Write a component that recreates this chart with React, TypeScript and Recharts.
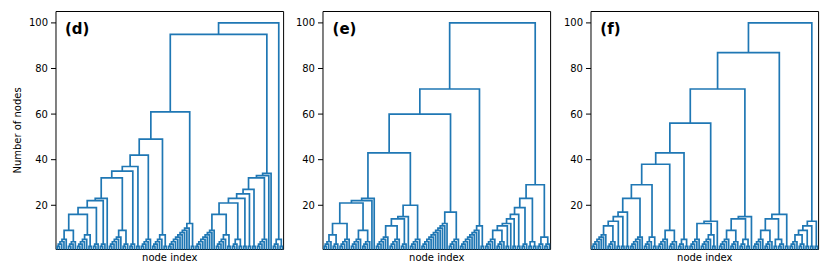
import React, { useMemo } from 'react';
import { LineChart, Line, XAxis, YAxis, ReferenceArea } from 'recharts';

// ---------- data ----------
// Tree topology strings: '.' = single node (leaf), '(' A B ')' = merge of A and B,
// digit k = a chain (caterpillar) of k leaves merged one at a time.
// Merge height = number of nodes in the merged cluster.
const panelLabels = ['(d)', '(e)', '(f)'];
const yTicks = [20, 40, 60, 80, 100];
const leafCount = 100;

const treeD =
  '((' +
  '(((((((((' + '((54)(52))' + '3)3).)(63))3)2)5)(52))((9.)2))' +
  '((((((((9(52))(32))2)2)2)5).).)' +
  ')(32))';

const treeE =
  '(' +
  '(' + '(' + '(' + '(((((43)5)(54)).).)' + '((((65)3).)5)' + ')' + '((((9.).).)5)' + ')' + '(92))' +
  '((((((((54)2).)2)2)3)(22))(33))' +
  ')';

const treeF =
  '(' +
  '(' + '(' + '(' + '(' + '(' + '(' + '(' + '((((74)2)2)2)' + '6)' + '(42))' + '(54))' + '(32))' +
  '((5(52)).))' + '(((54)(32)).))' + '(((54)(23))2))' +
  '((((43)2)2)2))';

const trees = [treeD, treeE, treeF];

// ---------- layout ----------
const PLOT_LEFTS = [55.7, 323.3, 591];
const PLOT_W = 227.6;
const Y_W = 50;
const TOP = 11.5;
const X_H = 27.5;
const Y_MIN = 0.6;
const Y_MAX = 105;
const BLUE = '#1f77b4';

type N = { x: number; n: number; h: number };
type P = { x: number; y: number | null };

function buildSegments(tree: string): P[] {
  const s = tree.replace(/\s+/g, '');
  let pos = 0;
  let leaf = 0;
  const pts: P[] = [];
  const mkLeaf = (): N => {
    const nd = { x: leaf * 10 + 5, n: 1, h: 0 };
    leaf++;
    return nd;
  };
  const join = (a: N, b: N): N => {
    const size = a.n + b.n;
    pts.push(
      { x: a.x, y: a.h },
      { x: a.x, y: size },
      { x: b.x, y: size },
      { x: b.x, y: b.h },
      { x: b.x, y: null }
    );
    return { x: (a.x + b.x) / 2, n: size, h: size };
  };
  const node = (): N => {
    const c = s[pos];
    if (c === '.') {
      pos++;
      return mkLeaf();
    }
    if (c >= '1' && c <= '9') {
      pos++;
      const k = +c;
      let cur = mkLeaf();
      for (let i = 1; i < k; i++) cur = join(cur, mkLeaf());
      return cur;
    }
    if (c === '(') {
      pos++;
      const a = node();
      const b = node();
      if (s[pos] !== ')') throw new Error('bad tree at ' + pos);
      pos++;
      return join(a, b);
    }
    throw new Error('bad char ' + c + ' at ' + pos);
  };
  node();
  if (leaf !== leafCount || pos !== s.length) {
    throw new Error('tree has ' + leaf + ' leaves, parsed ' + pos + '/' + s.length);
  }
  return pts;
}

function Panel({ idx }: { idx: number }) {
  const data = useMemo(() => buildSegments(trees[idx]), [idx]);
  const left = PLOT_LEFTS[idx];
  return (
    <>
      <div style={{ position: 'absolute', left: left - Y_W, top: 0 }}>
        <LineChart
          width={Y_W + PLOT_W + 2}
          height={277}
          margin={{ top: TOP, right: 2, bottom: 0, left: 0 }}
        >
          <XAxis
            type="number"
            dataKey="x"
            domain={[0, 1000]}
            allowDataOverflow
            tick={false}
            tickLine={false}
            axisLine={false}
            height={X_H}
            label={{ value: 'node index', position: 'insideTop', offset: 4, fill: '#000', fontSize: 10 }}
          />
          <YAxis
            type="number"
            domain={[Y_MIN, Y_MAX]}
            allowDataOverflow
            ticks={yTicks}
            width={Y_W}
            tickSize={5}
            tickMargin={3}
            axisLine={false}
            tickLine={{ stroke: '#000' }}
            tick={{ fill: '#000', fontSize: 10 }}
            label={
              idx === 0
                ? {
                    value: 'Number of nodes',
                    angle: -90,
                    position: 'insideLeft',
                    offset: 11,
                    fill: '#000',
                    fontSize: 10,
                    style: { textAnchor: 'middle' },
                  }
                : undefined
            }
          />
          <Line
            data={data}
            dataKey="y"
            stroke={BLUE}
            strokeWidth={1.7}
            dot={false}
            activeDot={false}
            connectNulls={false}
            isAnimationActive={false}
          />
          <ReferenceArea x1={0} x2={1000} y1={Y_MIN} y2={Y_MAX} fill="none" stroke="#000" strokeWidth={1} />
        </LineChart>
      </div>
      <div
        style={{
          position: 'absolute',
          left: left + 9.3,
          top: 22.3,
          fontSize: 15,
          lineHeight: '15px',
          fontWeight: 'bold',
          color: '#000',
        }}
      >
        {panelLabels[idx]}
      </div>
    </>
  );
}

export default function App() {
  return (
    <div
      style={{
        position: 'absolute',
        left: 0,
        top: 0,
        width: 830,
        height: 277,
        background: '#fff',
        fontFamily: '"DejaVu Sans", sans-serif',
      }}
    >
      <Panel idx={0} />
      <Panel idx={1} />
      <Panel idx={2} />
    </div>
  );
}
